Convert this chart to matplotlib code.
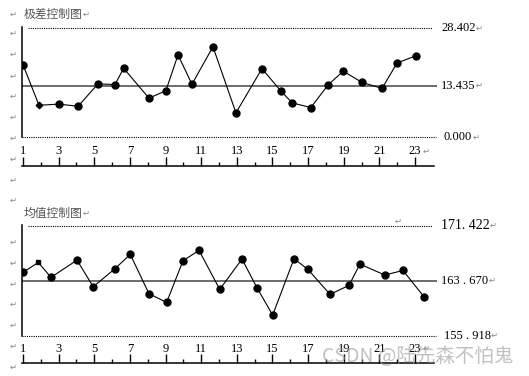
import matplotlib.pyplot as plt
import matplotlib.transforms as mtransforms

W, H = 529, 376

# 极差控制图 (range chart)
r_x = [1.0, 1.9, 3.0, 4.09, 5.21, 6.16, 6.65, 8.07, 9.02, 9.7, 10.48, 11.66,
       12.95, 14.41, 15.48, 16.11, 17.15, 18.12, 18.97, 20.02, 21.15, 21.99, 23.04]
r_vals = [18.87, 8.28, 8.60, 8.03, 13.88, 13.71, 17.95, 10.14, 12.11, 21.47, 13.79, 23.58,
          6.31, 17.87, 11.96, 8.92, 7.69, 13.60, 17.21, 14.27, 12.70, 19.34, 21.20]
r_limits = [28.402, 13.435, 0.000]
r_limit_labels = ["28.402", "13.435", "0.000"]

# 均值控制图 (mean chart)
m_x = [1.0, 1.86, 2.57, 4.03, 4.94, 6.16, 7.02, 8.07, 9.06, 9.98, 10.88, 12.04,
       13.29, 14.13, 15.01, 16.21, 16.99, 18.23, 19.29, 19.91, 21.31, 22.32, 23.5]
m_vals = [164.84, 166.25, 164.14, 166.57, 162.82, 165.36, 167.38, 161.84, 160.61, 166.49, 167.94, 162.44,
          166.72, 162.68, 158.82, 166.77, 165.26, 161.74, 163.01, 166.01, 164.46, 165.12, 161.41]
m_limits = [171.422, 163.670, 155.918]
m_limit_labels = ["171. 422", "163 . 670", "155 . 918"]

x_ticks = list(range(1, 24, 2))
x_ticklabels = [str(t) for t in x_ticks]

SERIF = ["Liberation Serif", "DejaVu Sans"]
CJK = ["Noto Sans CJK SC", "DejaVu Sans"]
MARK = "#888888"
ARROW = "↵"


def fx(px):
    return px / W


def fy(py):
    return 1 - py / H


def arrow_after(fig, t, py):
    # paragraph mark right after a text
    fig.canvas.draw()
    bb = t.get_window_extent()
    fig.text(bb.x1 / W, fy(py), ARROW, family="DejaVu Sans", fontsize=6, color=MARK,
             ha="left", va="center")


def chart(fig, top_px, bot_px, ucl_px, lcl_px, xs, vals, limits, labels, title, odd_marker,
          title_py, ucl_fs):
    ax = fig.add_axes([fx(22), fy(bot_px), fx(437 - 22), (bot_px - top_px) / H])
    ucl, cl, lcl = limits
    scale = (lcl_px - ucl_px) / (ucl - lcl)
    ax.set_ylim(lcl - (bot_px - lcl_px) / scale, ucl + (ucl_px - top_px) / scale)
    x0 = 1 - 1 / 17.82
    ax.set_xlim(x0, 1 + 414 / 17.82)

    ax.plot([1.28, 23.93], [ucl, ucl], color="black", lw=0.8, ls=(0, (1, 1)))
    ax.plot([x0, 24.16], [lcl, lcl], color="black", lw=0.8, ls=(0, (1, 1)))
    ax.axhline(cl, color="#444444", lw=1.1)

    ax.plot(xs, vals, color="black", lw=0.8, zorder=3)
    for i, (x, v) in enumerate(zip(xs, vals)):
        if i == 1:
            ax.plot(x, v, marker=odd_marker, ms=3.3, color="black", zorder=4)
        else:
            ax.plot(x, v, marker="o", ms=5, color="black", zorder=4)

    for s in ["top", "right"]:
        ax.spines[s].set_visible(False)
    ax.spines["left"].set_bounds(lcl, ucl + 1 / scale)
    ax.spines["left"].set_linewidth(1.1)
    ax.spines["bottom"].set_bounds(x0, 24.06)
    ax.spines["bottom"].set_linewidth(1.1)
    ax.set_yticks([])
    ax.set_xticks(x_ticks)
    ax.set_xticklabels(x_ticklabels, family=SERIF, fontsize=9)
    ax.set_xticks(range(2, 23, 2), minor=True)
    ax.tick_params(axis="x", which="major", direction="in", length=6.5, width=1, pad=-14.8)
    ax.tick_params(axis="x", which="minor", direction="in", length=3, width=1)

    # paragraph mark after the last tick label
    trans = mtransforms.blended_transform_factory(ax.transData, fig.transFigure)
    ax.text(x_ticks[-1] + 0.45, fy(bot_px - 15), ARROW, transform=trans, family="DejaVu Sans",
            fontsize=6, color=MARK, ha="left", va="center")

    for lab, val in zip(labels, limits):
        py = lcl_px - (val - lcl) * scale
        xpos = 444 if val == lcl else 441
        t = fig.text(fx(xpos), fy(py), lab, family=SERIF, fontsize=ucl_fs if val == ucl else 9,
                     ha="left", va="center", color="black")
        arrow_after(fig, t, py)

    t = fig.text(fx(24), fy(title_py), title, family=CJK, fontsize=8.5, color="#555555",
                 ha="left", va="center")
    arrow_after(fig, t, title_py)
    return ax


fig = plt.figure(figsize=(W / 100, H / 100), dpi=100)

chart(fig, 20, 166, 28.3, 137, r_x, r_vals, r_limits, r_limit_labels, "极差控制图", "D", 14, 9)
chart(fig, 215, 363.3, 225.7, 335.7, m_x, m_vals, m_limits, m_limit_labels, "均值控制图", "s", 213, 10)

# paragraph marks down the left margin
for py in [14, 33, 54, 76, 96, 117, 138, 159, 180, 200, 242, 263, 284, 304, 325, 346, 367]:
    fig.text(fx(13), fy(py), ARROW, family="DejaVu Sans", fontsize=6, color=MARK, ha="center", va="center")
fig.text(fx(398), fy(221), ARROW, family="DejaVu Sans", fontsize=6, color=MARK, ha="center", va="center")

fig.text(fx(418), fy(356), "CSDN @陆先森不怕鬼", family=CJK, fontsize=14, color="#999999",
         alpha=0.6, ha="center", va="center")

fig.savefig("out.png", dpi=100)
